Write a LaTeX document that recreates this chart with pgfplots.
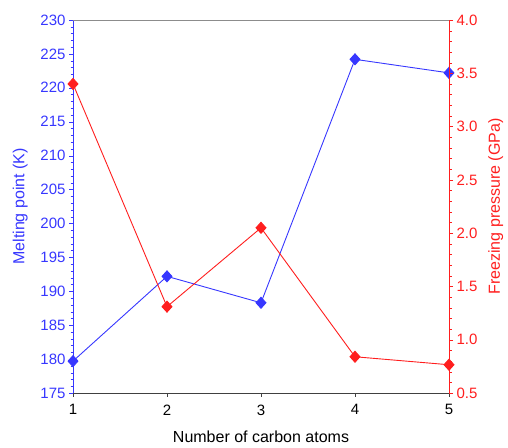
\documentclass[border=0pt]{standalone}
\usepackage{fontspec}
\setmainfont{Liberation Sans}
\usepackage{pgfplots}
\pgfplotsset{compat=1.18}
\usetikzlibrary{calc}
\definecolor{mblue}{RGB}{55,55,255}
\definecolor{mred}{RGB}{255,30,30}

\begin{document}
\begin{tikzpicture}
  \pgfplotsset{
    every axis/.append style={
      scale only axis, width=376pt, height=373pt,
      xmin=1, xmax=5, clip=false,
      tick align=outside,
      major tick length=4pt, minor tick length=2.5pt,
      /pgf/number format/assume math mode=true,
      tick label style={font=\fontsize{15}{18}\selectfont},
      label style={font=\fontsize{16}{19}\selectfont},
    },
  }
  % left axis: melting point
  \begin{axis}[
    name=ax,
    axis x line*=bottom, axis y line*=left,
    x axis line style={-, black!75}, y axis line style={-, mblue, line width=0.8pt},
    xtick={1,2,3,4,5}, x tick style={black!75},
    xticklabel style={yshift=-4pt},
    ymin=175, ymax=230, ytick={175,180,...,230}, minor y tick num=4,
    y tick style={mblue}, yticklabel style={mblue},
    xlabel={Number of carbon atoms}, xlabel style={yshift=-9pt},
    ylabel={Melting point (K)}, ylabel style={mblue, yshift=6pt},
  ]
    \addplot[mblue, line width=0.9pt, mark=diamond*, mark size=5.5pt,
      mark options={fill=mblue, draw=mblue, xscale=1.2}] coordinates {
      (1,179.7) (2,192.2) (3,188.3) (4,224.2) (5,222.2)
    };
    \path (rel axis cs:0,0) ++(-73pt,-55pt) coordinate (bbsw);
    \path (rel axis cs:1,1) ++(59pt,20pt) coordinate (bbne);
  \end{axis}
  % right axis: freezing pressure
  \begin{axis}[
    axis x line*=top, axis y line*=right,
    x axis line style={-, black!45}, y axis line style={-, mred, line width=0.8pt},
    xtick=\empty,
    ymin=0.5, ymax=4.0, ytick={0.5,1.0,...,4.0}, minor y tick num=4,
    y tick style={mred}, yticklabel style={mred,
      /pgf/number format/.cd, fixed, fixed zerofill, precision=1},
    ylabel={Freezing pressure (GPa)}, ylabel style={mred, yshift=-4pt},
  ]
    \addplot[mred, line width=0.9pt, mark=diamond*, mark size=5.5pt,
      mark options={fill=mred, draw=mred, xscale=1.2}] coordinates {
      (1,3.40) (2,1.31) (3,2.05) (4,0.84) (5,0.765)
    };
  \end{axis}
  \path (bbsw) rectangle (bbne);
\end{tikzpicture}
\end{document}
